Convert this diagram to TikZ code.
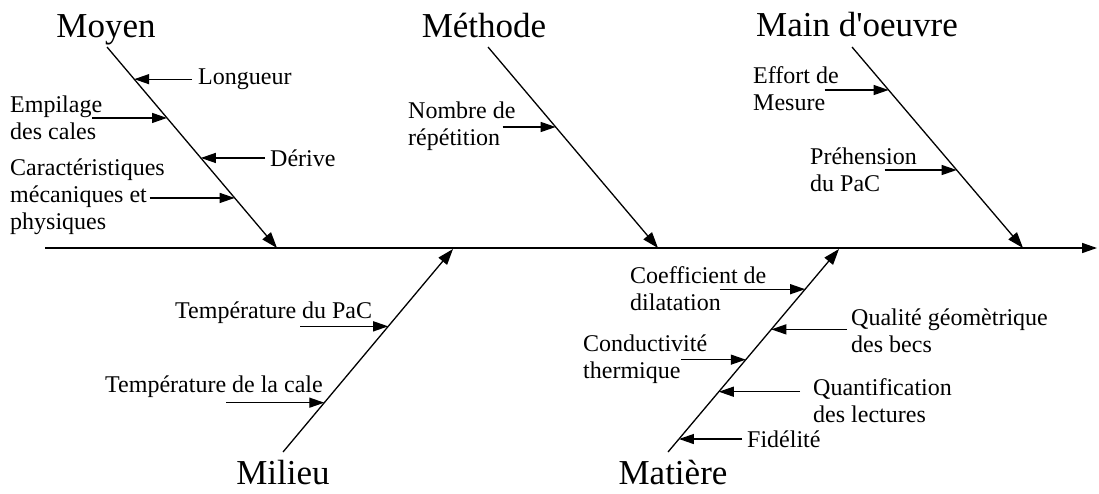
\documentclass[tikz,border=0pt]{standalone}
\usepackage{fontspec}
\setmainfont{Liberation Serif}
\usetikzlibrary{arrows.meta,calc}

\begin{document}
\begin{tikzpicture}[x=1pt,y=-1pt,
  bone/.style={line width=1.3pt,-{Triangle[length=16pt,width=11pt]}},
  cause/.style={line width=1.3pt,-{Triangle[length=15pt,width=10pt]}},
  catxt/.style={font=\fontsize{35}{40}\selectfont,anchor=base,inner sep=0pt},
  causetxt/.style={font=\fontsize{24}{27}\selectfont,align=left,anchor=west,inner sep=0pt}]
\useasboundingbox (0,0) rectangle (1099,493);

\coordinate (tail) at (45,248);
\coordinate (head) at (1097,248);
\draw [line width=1.5pt,-{Triangle[length=15pt,width=10pt]}](tail)--(head);

\coordinate (moy1) at (107,47);
\coordinate (moy2) at (277,248);
\coordinate (met1) at (488,47);
\coordinate (met2) at (658,248);
\coordinate (mo1) at (852,47);
\coordinate (mo2) at (1023,248);
\coordinate (mil1) at (283,452);
\coordinate (mil2) at (453,249);
\coordinate (mat1) at (668,452);
\coordinate (mat2) at (839,249);

\node [catxt] (moyen) at (106,37) {Moyen};
\node [catxt] (methode) at (484,37) {Méthode};
\node [catxt] (maindo) at (857,36) {Main d\textquotesingle oeuvre};
\node [catxt] (milieu) at (283,484) {Milieu};
\node [catxt] (matiere) at (673,484) {Matière};

\draw [bone](moy1)--(moy2);
\draw [bone](met1)--(met2);
\draw [bone](mo1)--(mo2);
\draw [bone](mil1)--(mil2);
\draw [bone](mat1)--(mat2);

\coordinate (t1) at ($(moy1)!0.16!(moy2)$);
\coordinate (t2) at ($(moy1)!0.353!(moy2)$);
\coordinate (t3) at ($(moy1)!0.552!(moy2)$);
\coordinate (t4) at ($(moy1)!0.751!(moy2)$);
\coordinate (t5) at ($(met1)!0.398!(met2)$);
\coordinate (t6) at ($(mo1)!0.214!(mo2)$);
\coordinate (t7) at ($(mo1)!0.612!(mo2)$);
\coordinate (t8) at ($(mil1)!0.619!(mil2)$);
\coordinate (t9) at ($(mil1)!0.243!(mil2)$);
\coordinate (t10) at ($(mat1)!0.802!(mat2)$);
\coordinate (t11) at ($(mat1)!0.604!(mat2)$);
\coordinate (t12) at ($(mat1)!0.455!(mat2)$);
\coordinate (t13) at ($(mat1)!0.297!(mat2)$);
\coordinate (t14) at ($(mat1)!0.064!(mat2)$);

\node [causetxt] (longueur) at (198,79) {Longueur};
\node [causetxt] (empilage) at (10,118) {Empilage\\des cales};
\node [causetxt] (derive) at (270,158) {Dérive};
\node [causetxt] (carac) at (10,197) {Caractéristiques\\mécaniques et\\physiques};
\node [causetxt] (nombre) at (408,126) {Nombre de\\répétition};
\node [causetxt] (effort) at (753,89) {Effort de\\Mesure};
\node [causetxt] (prehension) at (810,170) {Préhension\\du PaC};
\node [causetxt] (tpac) at (175,313) {Température du PaC};
\node [causetxt] (tcale) at (105,387) {Température de la cale};
\node [causetxt] (coeff) at (630,289) {Coefficient de\\dilatation};
\node [causetxt] (qualite) at (851,331) {Qualité géomètrique\\des becs};
\node [causetxt] (conduct) at (583,359) {Conductivité\\thermique};
\node [causetxt] (quantif) at (813,401) {Quantification\\des lectures};
\node [causetxt] (fidelite) at (747,439) {Fidélité};

\draw [cause]($(longueur.west |- t1)+(-6,0)$)--(t1);
\draw [cause]($(t2)+(-75,0)$)--(t2);
\draw [cause]($(derive.west |- t3)+(-5,0)$)--(t3);
\draw [cause]($(t4)+(-85,0)$)--(t4);
\draw [cause]($(t5)+(-53,0)$)--(t5);
\draw [cause]($(t6)+(-64,0)$)--(t6);
\draw [cause]($(t7)+(-72,0)$)--(t7);
\draw [cause]($(t8)+(-88,0)$)--(t8);
\draw [cause]($(t9)+(-98,0)$)--(t9);
\draw [cause]($(t10)+(-85,0)$)--(t10);
\draw [cause]($(qualite.west |- t11)+(-4,0)$)--(t11);
\draw [cause]($(t12)+(-65,0)$)--(t12);
\draw [cause]($(quantif.west |- t13)+(-13,0)$)--(t13);
\draw [cause]($(fidelite.west |- t14)+(-5,0)$)--(t14);
\end{tikzpicture}
\end{document}
